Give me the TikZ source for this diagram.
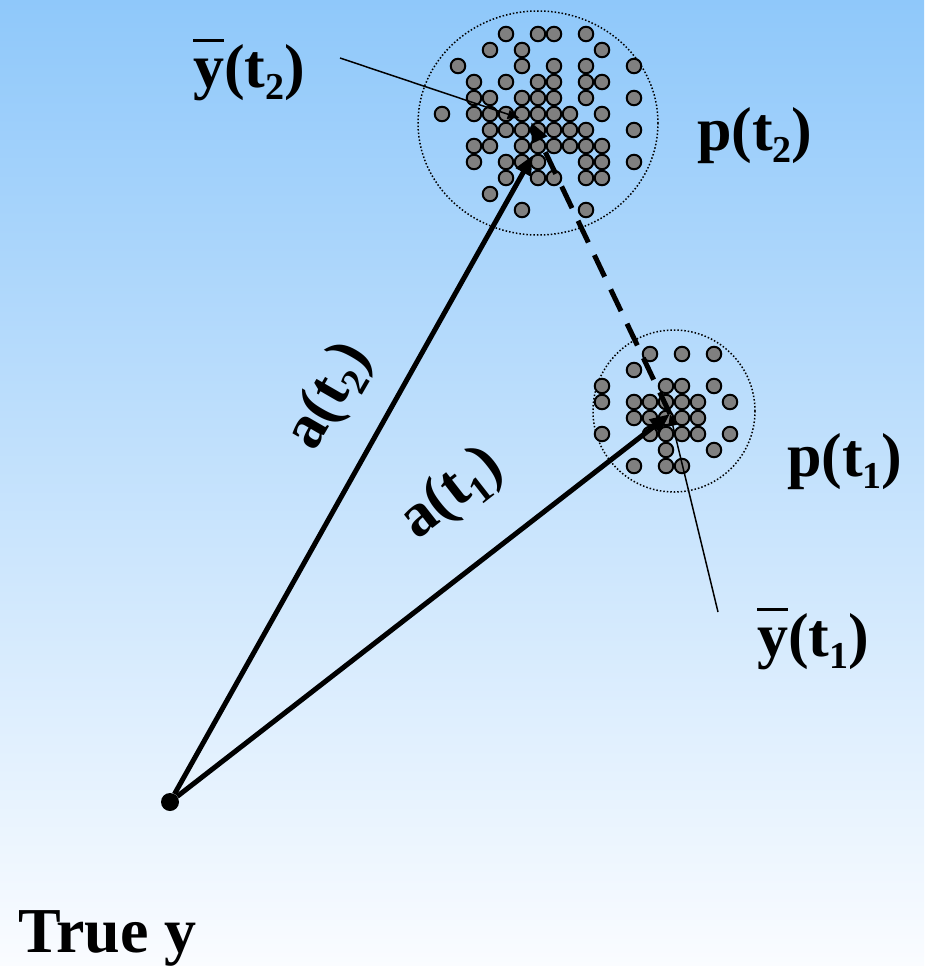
\documentclass[tikz,border=0pt]{standalone}
\usepackage{fontspec}
\setmainfont{Liberation Serif}
\usetikzlibrary{arrows.meta}

\definecolor{skytop}{RGB}{143,200,250}
\definecolor{skybottom}{RGB}{250,252,255}
\definecolor{dotgray}{RGB}{128,128,128}

\newcommand\tsub[1]{\raisebox{-0.2em}{\fontsize{38}{40}\selectfont #1}}
\newcommand\ybar{\rlap{\raisebox{0.72em}{\rule{0.5em}{0.05em}}}y}

\begin{document}
\begin{tikzpicture}[
    x=1pt,
    y=-1pt,
    sym/.style={
        inner sep=0pt,
        font=\fontsize{62}{70}\selectfont\bfseries
    },
    sample/.style={
        circle,
        draw=black,
        fill=dotgray,
        line width=2pt,
        minimum size=14.5pt,
        inner sep=0pt
    },
    spread/.style={
        draw=black,
        dotted,
        line width=1.5pt
    },
    vector/.style={
        -{Triangle[length=20pt,width=16pt]},
        line width=5pt
    },
    pointer/.style={
        -{Triangle[length=12pt,width=9pt]},
        line width=1.5pt
    }
]

% background
\shade[top color=skytop, bottom color=skybottom] (0,0) rectangle (924,966);
\useasboundingbox (0,0) rectangle (924,966);

% spread of the samples
\draw[spread] (538,123) ellipse [x radius=120, y radius=112];
\draw[spread] (674,411) circle [radius=81];

% samples at t2
\foreach \c/\r in {4/0,6/0,7/0,9/0,
    3/1,5/1,10/1,
    1/2,5/2,7/2,9/2,12/2,
    2/3,4/3,6/3,7/3,9/3,10/3,
    2/4,3/4,5/4,6/4,7/4,9/4,12/4,
    0/5,2/5,3/5,4/5,5/5,6/5,7/5,8/5,10/5,
    3/6,4/6,5/6,6/6,7/6,8/6,9/6,12/6,
    2/7,3/7,5/7,6/7,7/7,8/7,9/7,10/7,
    2/8,4/8,5/8,6/8,9/8,10/8,12/8,
    4/9,6/9,7/9,9/9,10/9,
    3/10,
    5/11,9/11}
    \node[sample] (s2-\c-\r) at ({442+16*\c},{34+16*\r}) {};

% samples at t1
\foreach \c/\r in {3/0,5/0,7/0,
    2/1,
    0/2,4/2,5/2,7/2,
    0/3,2/3,3/3,4/3,5/3,6/3,8/3,
    2/4,3/4,4/4,5/4,6/4,
    0/5,3/5,4/5,5/5,6/5,8/5,
    4/6,7/6,
    2/7,4/7,5/7}
    \node[sample] (s1-\c-\r) at ({602+16*\c},{354+16*\r}) {};

% points
\node[circle, fill=black, minimum size=18pt, inner sep=0pt] (truey) at (170,802) {};
\coordinate (mean1) at (670,414);
\coordinate (mean2) at (531,122);
\coordinate (tip2) at (533,155);
\coordinate (ybar2 foot) at (340,58);
\coordinate (ybar1 foot) at (718,612);

% labels
\node[sym, anchor=base west] (ybar2) at (193,87) {\ybar(t\tsub{2})};
\node[sym, anchor=base west] (p2) at (697,150) {p(t\tsub{2})};
\node[sym, anchor=base west] (p1) at (787,476) {p(t\tsub{1})};
\node[sym, anchor=base west] (ybar1) at (757,656) {\ybar(t\tsub{1})};
\node[sym, anchor=base west, font=\fontsize{64}{70}\selectfont\bfseries] (truelabel) at (18,952) {True y};
\node[sym, rotate=60] (a2) at (330,397) {a(t\tsub{2})};
\node[sym, rotate=38] (a1) at (452,494) {a(t\tsub{1})};

% vectors
\draw[vector] (truey) -- (tip2);
\draw[vector] (truey) -- (mean1);
\draw[vector, dash pattern=on 24pt off 14pt] (mean1) -- (mean2);
\draw[pointer, shorten >=12pt] (ybar2 foot) -- (mean2);
\draw[pointer] (ybar1 foot) -- (mean1);

\end{tikzpicture}
\end{document}
